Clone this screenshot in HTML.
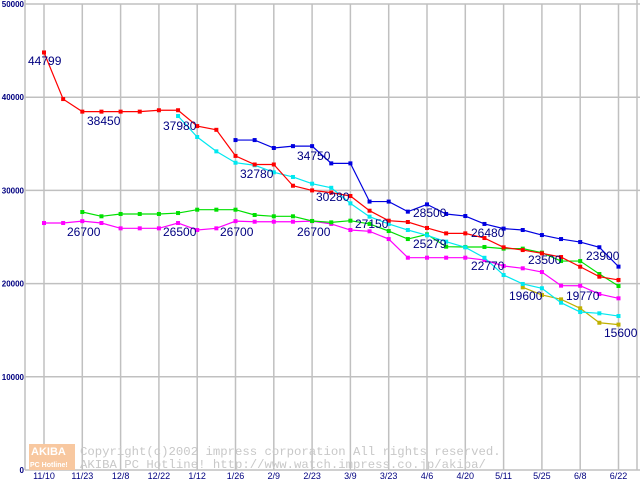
<!DOCTYPE html>
<html><head><meta charset="utf-8">
<style>
html,body{margin:0;padding:0;background:#fff;}
svg{display:block;font-family:"Liberation Sans","DejaVu Sans",sans-serif;}
</style></head>
<body>
<svg id="chart" width="640" height="480" viewBox="0 0 640 480" xmlns="http://www.w3.org/2000/svg">
<g id="grid"></g>
<g id="wm">
  <rect x="29" y="444" width="46" height="26" fill="#f8c8a0"/>
  <text x="31" y="455" font-size="11" fill="#fff" font-weight="bold">AKIBA</text>
  <text x="30" y="467" font-size="7" fill="#fff" font-weight="bold">PC Hotline!</text>
  <text x="80" y="455" font-size="12.3" fill="#c8c8c8" font-family="Liberation Mono, monospace">Copyright(c)2002 impress corporation All rights reserved.</text>
  <text x="80" y="468" font-size="12.3" fill="#c8c8c8" font-family="Liberation Mono, monospace">AKIBA PC Hotline!  http://www.watch.impress.co.jp/akiba/</text>
</g>
<g id="series"></g>
<g id="labels"></g>
</svg>
<script>
const xLabels=["11/10","11/23","12/8","12/22","1/12","1/26","2/9","2/23","3/9","3/23","4/6","4/20","5/11","5/25","6/8","6/22"];
const yTicks=[0,10000,20000,30000,40000,50000];
const redVals=[44799,39800,38450,38450,38450,38450,38600,38600,36900,36500,33700,32780,32780,30500,30000,29760,29400,27820,26750,26610,25970,25390,25390,24890,23890,23600,23250,22850,21810,20740,20390];
const blueVals=[null,null,null,null,null,null,null,null,null,null,35400,35400,34550,34750,34750,32900,32900,28800,28800,27720,28500,27470,27250,26400,25900,25750,25210,24780,24460,23900,21820];
const cyanVals=[null,null,null,null,null,null,null,37980,35730,34190,32970,32700,31940,31440,30720,30280,28610,27180,26400,25750,25180,24500,23890,22770,20920,19960,19500,17950,16950,16810,16520];
const greenVals=[null,null,27680,27220,27470,27470,27470,27570,27930,27930,27930,27360,27220,27220,26720,26570,26750,26400,25640,24780,25279,23960,23930,23930,23750,23750,23320,22420,22420,21030,19740];
const magentaVals=[26500,26500,26700,26500,25930,25930,25930,26500,25750,25930,26700,26640,26640,26640,26700,26400,25750,25610,24780,22780,22780,22780,22780,22530,21890,21640,21240,19780,19770,18880,18420];
const oliveVals=[null,null,null,null,null,null,null,null,null,null,null,null,null,null,null,null,null,null,null,null,null,null,null,null,null,19600,18780,18310,17350,15800,15600];
const labelTexts=["44799","38450","37980","32780","34750","26700","26500","26700","26700","30280","27150","28500","25279","26480","22770","23500","23900","19600","19770","15600"];
const labelIdx=[0,2,7,11,14,1,7,10,14,14,16,19,19,22,22,25,28,24,27,29];
const labelVals=[44799,38450,37980,32780,34750,26700,26500,26700,26700,30280,27150,28500,25279,26480,22770,23500,23900,19600,19770,15600];

const NS="http://www.w3.org/2000/svg";
const X0=44, DX=19.15, Y0=470, PX=93.2/10000;
const xOf=i=>X0+DX*i;
const yOf=v=>Y0-v*PX;
function mk(tag,attrs,parent){const e=document.createElementNS(NS,tag);for(const k in attrs)e.setAttribute(k,attrs[k]);parent.appendChild(e);return e;}
const grid=document.getElementById('grid');
for(const t of yTicks){
  const l=mk('line',{x1:25,x2:640,y1:yOf(t),y2:yOf(t),stroke:'#c0c0c0','stroke-width':1.5},grid);
  
  
  const tx=mk('text',{x:24,y:yOf(t)+3,'text-anchor':'end','font-size':8,'font-weight':'bold',fill:'#000080'},grid);
  
  
  tx.textContent=String(t);
}
xLabels.forEach((s,k)=>{
  const x=xOf(k*2);
  const l=mk('line',{x1:x,x2:x,y1:yOf(50000),y2:Y0,stroke:'#c0c0c0','stroke-width':1.5},grid);
  
  
  const tx=mk('text',{x:x,y:479,'text-anchor':'middle','font-size':9,fill:'#000080'},grid);
  
  
  tx.textContent=s;
});
const ax=mk('line',{x1:25,x2:25,y1:0,y2:Y0,stroke:'#c0c0c0','stroke-width':1.5},grid);


const rx=mk('line',{x1:637,x2:637,y1:0,y2:Y0,stroke:'#c0c0c0','stroke-width':1.5},grid);



const sg=document.getElementById('series');
const series=[[oliveVals,'#c0b000','olive'],[magentaVals,'#ff00ff','magenta'],[greenVals,'#00e000','green'],[cyanVals,'#00e8f0','cyan'],[redVals,'#ff0000','red'],[blueVals,'#0000e0','blue']];
for(const [vals,col,nm] of series){
  const pts=[];vals.forEach((v,i)=>{if(v!=null)pts.push([xOf(i),yOf(v)]);});
  const pl=mk('polyline',{points:pts.map(p=>p.join(',')).join(' '),fill:'none',stroke:col,'stroke-width':1.2},sg);
  
  
  for(const p of pts){
    const r=mk('rect',{x:p[0]-2,y:p[1]-2,width:4,height:4,fill:col},sg);
    
    
  }
}
const lg=document.getElementById('labels');
const labelAt=[[28,65],[87,125],[163,130],[240,178],[297,160],[67,236],[163,236],[220,236],[297,236],[316,201],[355,228],[413,217],[413,248],[471,237],[471,270],[528,264],[586,260],[509,300],[566,300],[604,337]];
labelTexts.forEach((s,k)=>{
  const dx=labelAt[k][0]-xOf(labelIdx[k]), dy=labelAt[k][1]-yOf(labelVals[k]);
  const t=mk('text',{x:xOf(labelIdx[k])+dx,y:yOf(labelVals[k])+dy,'font-size':12,fill:'#000080'},lg);
  
  
  t.textContent=s;
});
</script>
</body></html>
